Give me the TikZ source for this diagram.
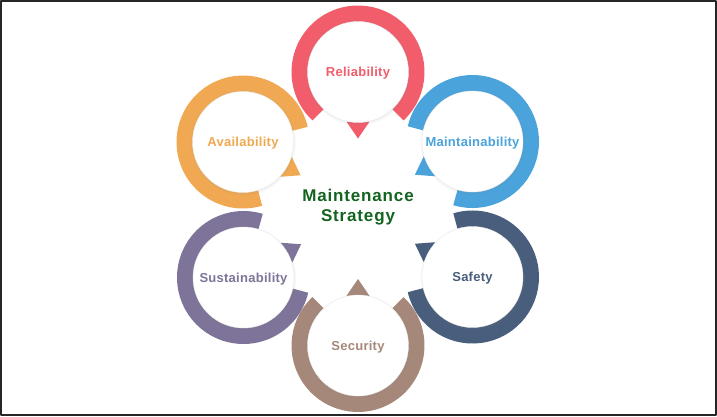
\documentclass[tikz,border=0pt]{standalone}
\usepackage{fontspec}
\setmainfont{Liberation Sans}
\newfontfamily\labelfont[LetterSpace=2]{Liberation Sans}
\newfontfamily\titlefont[LetterSpace=5]{Liberation Sans}
\usetikzlibrary{shadows}
\pgfdeclarelayer{bg}
\pgfsetlayers{bg,main}
\definecolor{relcol}{HTML}{F25D6C}
\definecolor{maicol}{HTML}{4AA3DB}
\definecolor{safcol}{HTML}{485E7C}
\definecolor{seccol}{HTML}{A6887A}
\definecolor{suscol}{HTML}{7E7499}
\definecolor{avacol}{HTML}{F0A952}
\definecolor{stratcol}{HTML}{12641E}
\begin{document}
\begin{tikzpicture}[x=1pt, y=1pt, line join=round,
    hub/.style={circle, fill=white, draw=black!8, minimum size=101pt, inner sep=0pt,
      text depth=0pt,
      circular drop shadow={shadow xshift=0pt, shadow yshift=-0.5pt, shadow scale=1.05, opacity=0.3},
      font=\labelfont\bfseries\fontsize{13}{15}\selectfont}]
  \useasboundingbox (-358,-207) rectangle (359,209);
  \draw[line width=2pt, black!85] (-357,-206) rectangle (358,208);
  % centre text
  \node[font=\titlefont\bfseries\fontsize{17}{20}\selectfont, text=stratcol, align=center] (strategy) at (0,1.5) {Maintenance\\Strategy};
  % rings with a gap and a pointer facing the centre
  \foreach \nm/\px/\py/\dir/\col/\lab in {rel/0/137/270/relcol/Reliability,
      mai/114.5/67.5/210/maicol/Maintainability, saf/114.5/-68/150/safcol/Safety,
      sec/0/-136.5/90/seccol/Security, sus/-114.5/-68.5/30/suscol/Sustainability,
      ava/-115/67/330/avacol/Availability}{
    \node[hub, text=\col] (\nm) at (\px,\py) {\lab};
    \begin{pgfonlayer}{bg}
      \pgfmathsetmacro\sa{\dir+43}
      \pgfmathsetmacro\ea{\dir+317}
      \draw[\col, line width=16.5pt] (\nm.center) ++(\sa:58.25) arc[start angle=\sa, end angle=\ea, radius=58.25];
      \fill[\col] (\nm.center) +(\dir-13:51) -- +(\dir:66.5) -- +(\dir+13:51) -- cycle;
    \end{pgfonlayer}
  }
\end{tikzpicture}
\end{document}
